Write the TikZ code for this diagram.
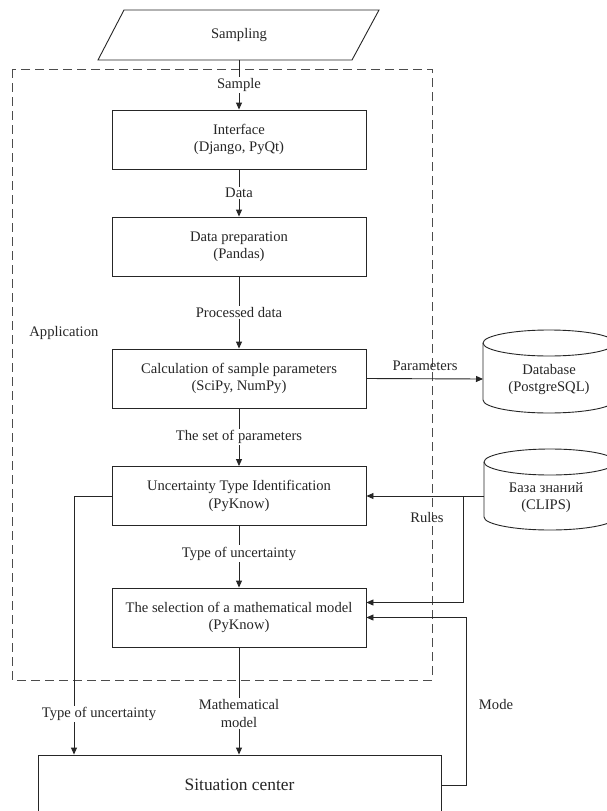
\documentclass[tikz,border=0pt]{standalone}
\usepackage{fontspec}
\setmainfont{Liberation Serif}
\usetikzlibrary{arrows.meta,calc}
\newcommand{\dgfs}{\fontsize{14.6}{17.5}\selectfont}
\begin{document}
\begin{tikzpicture}[x=1pt,y=-1pt, line width=0.9pt, color=black!85,
  box/.style={draw, minimum width=254pt, minimum height=59pt, align=center, font=\dgfs, inner sep=0pt},
  lbl/.style={fill=white, inner sep=1.5pt, font=\dgfs, align=center},
  txt/.style={font=\dgfs, align=center, inner sep=0pt},
  arr/.style={-{Triangle[length=7pt,width=6pt]}},
  cyl/.style={draw, fill=white}]
\clip (0,0) rectangle (607,811);
\fill[white] (0,0) rectangle (607,811);
% application frame
\draw[dash pattern=on 9pt off 5pt, black!70] (12,69) rectangle (432,680);
% sampling parallelogram
\draw (124,10) -- (379,10) -- (352,60) -- (98,60) -- cycle;
\node[txt] (samp) at (239,35) {Sampling};
\coordinate (sampB) at (239,60);
% boxes
\node[box] (iface) at (239,139.5) {Interface\\(Django, PyQt)};
\node[box] (prep) at (239,246.5) {Data preparation\\(Pandas)};
\node[box] (calc) at (239,378.5) {Calculation of sample parameters\\(SciPy, NumPy)};
\node[box] (unc) at (239,496) {Uncertainty Type Identification\\(PyKnow)};
\node[box] (sel) at (239,617.5) {The selection of a mathematical model\\(PyKnow)};
\node[draw, minimum width=403pt, minimum height=60pt, inner sep=0pt, font=\fontsize{17.4}{20}\selectfont] (sit) at (239.5,785) {Situation center};
\node[txt, anchor=west] (app) at (29,333) {Application};
% database cylinder
\draw[cyl] (483,343) -- (483,400) arc[start angle=180,end angle=360,x radius=66pt,y radius=13pt] -- (615,343);
\draw (549,343) ellipse [x radius=66pt,y radius=13pt];
\node[txt] (db) at (549,379.5) {Database\\(PostgreSQL)};
\coordinate (dbL) at (483,379);
% knowledge base cylinder
\draw[cyl] (484,462) -- (484,517) arc[start angle=180,end angle=360,x radius=66pt,y radius=13pt] -- (616,462);
\draw (550,462) ellipse [x radius=66pt,y radius=13pt];
\node[txt] (kb) at (546,497.5) {База знаний\\(CLIPS)};
\coordinate (kbL) at (484,496);
\coordinate (kbJ) at (463,496);
% main flow
\draw[arr] (sampB) -- node[lbl]{Sample} (iface.north);
\draw[arr] (iface.south) -- node[lbl]{Data} (prep.north);
\draw[arr] (prep.south) -- node[lbl]{Processed data} (calc.north);
\draw[arr] (calc.south) -- node[lbl]{The set of parameters} (unc.north);
\draw[arr] (unc.south) -- node[lbl, pos=0.45]{Type of uncertainty} (sel.north);
\draw[arr] (sel.south) -- node[lbl, pos=0.616]{Mathematical\\model} (sel.south |- sit.north);
% left branch
\coordinate (ul) at (74,496);
\draw[arr] (unc.west) -- (ul) -- (ul |- sit.north);
\node[lbl] (tou) at (99,714) {Type of uncertainty};
% parameters
\draw[arr] (calc.east) -- (dbL);
\node[txt] (par) at (425,366) {Parameters};
% rules
\draw[arr] (kbL) -- (unc.east);
\draw[arr] (kbJ) |- ([yshift=15pt]sel.east);
\node[txt] (rules) at (427,517) {Rules};
% mode
\coordinate (mr) at (466,785);
\draw[arr] (sit.east) -- (mr) |- (sel.east);
\node[txt] (mode) at (496,704) {Mode};
\end{tikzpicture}
\end{document}
